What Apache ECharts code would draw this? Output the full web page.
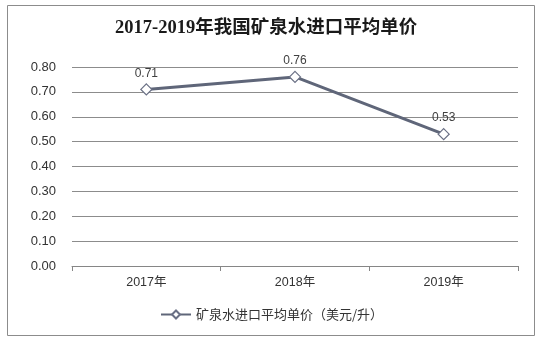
<!DOCTYPE html>
<html>
<head>
<meta charset="utf-8">
<script src="https://cdn.jsdelivr.net/npm/echarts@6/dist/echarts.min.js"></script>
<style>
  html, body { margin: 0; padding: 0; background: #fff; }
  #chart { width: 544px; height: 340px; }
</style>
</head>
<body>
<div id="chart"></div>
<script>
// Years on the category axis
const years = ['2017年', '2018年', '2019年'];
// Average import unit price of mineral water (USD per litre)
const unitPrice = [0.71, 0.76, 0.53];
// Value-axis ticks
const yTicks = [0.00, 0.10, 0.20, 0.30, 0.40, 0.50, 0.60, 0.70, 0.80];

const seriesName = '矿泉水进口平均单价（美元/升）';

const chart = echarts.init(document.getElementById('chart'), null, { renderer: 'canvas' });

chart.setOption({
  backgroundColor: '#ffffff',
  animation: false,
  title: {
    text: '2017-2019年我国矿泉水进口平均单价',
    left: 110,
    top: 14,
    textStyle: {
      fontFamily: '"Liberation Serif", "Noto Sans CJK SC", serif',
      fontSize: 18.5,
      fontWeight: 'bold',
      color: '#1a1a1a'
    }
  },
  graphic: [{
    type: 'rect',
    shape: { x: 7.5, y: 5.5, width: 527, height: 330 },
    style: { fill: 'none', stroke: '#8c8c8c', lineWidth: 1 },
    silent: true
  }],
  legend: {
    data: [seriesName],
    bottom: 14,
    left: 155,
    itemWidth: 30,
    itemHeight: 10,
    itemGap: 4,
    textStyle: {
      fontFamily: '"Noto Sans CJK SC", sans-serif',
      fontSize: 13,
      color: '#333'
    }
  },
  grid: {
    left: 72,
    right: 26,
    top: 67,
    bottom: 74
  },
  xAxis: {
    type: 'category',
    data: years,
    boundaryGap: true,
    axisLine: { lineStyle: { color: '#868686', width: 1 } },
    axisTick: { show: true, alignWithLabel: false, length: 5, lineStyle: { color: '#868686' } },
    axisLabel: {
      margin: 10,
      fontFamily: '"Liberation Sans", "Noto Sans CJK SC", sans-serif',
      fontSize: 12.5,
      color: '#333'
    }
  },
  yAxis: {
    type: 'value',
    min: yTicks[0],
    max: yTicks[yTicks.length - 1],
    interval: 0.1,
    axisLine: { show: false },
    axisTick: { show: false },
    splitLine: { lineStyle: { color: '#8c8c8c', width: 1 } },
    axisLabel: {
      margin: 16,
      fontFamily: '"Liberation Sans", Arial, sans-serif',
      fontSize: 13,
      color: '#333',
      formatter: v => v.toFixed(2)
    }
  },
  series: [{
    name: seriesName,
    type: 'line',
    data: unitPrice,
    symbol: 'diamond',
    symbolSize: 11,
    showAllSymbol: true,
    lineStyle: { color: '#5f6679', width: 3 },
    itemStyle: { color: '#ffffff', borderColor: '#6a7085', borderWidth: 1.2 },
    label: {
      show: true,
      position: 'top',
      distance: 4,
      fontFamily: '"Liberation Sans", Arial, sans-serif',
      fontSize: 12,
      color: '#404040',
      formatter: p => p.value.toFixed(2)
    }
  }]
});
</script>
</body>
</html>
